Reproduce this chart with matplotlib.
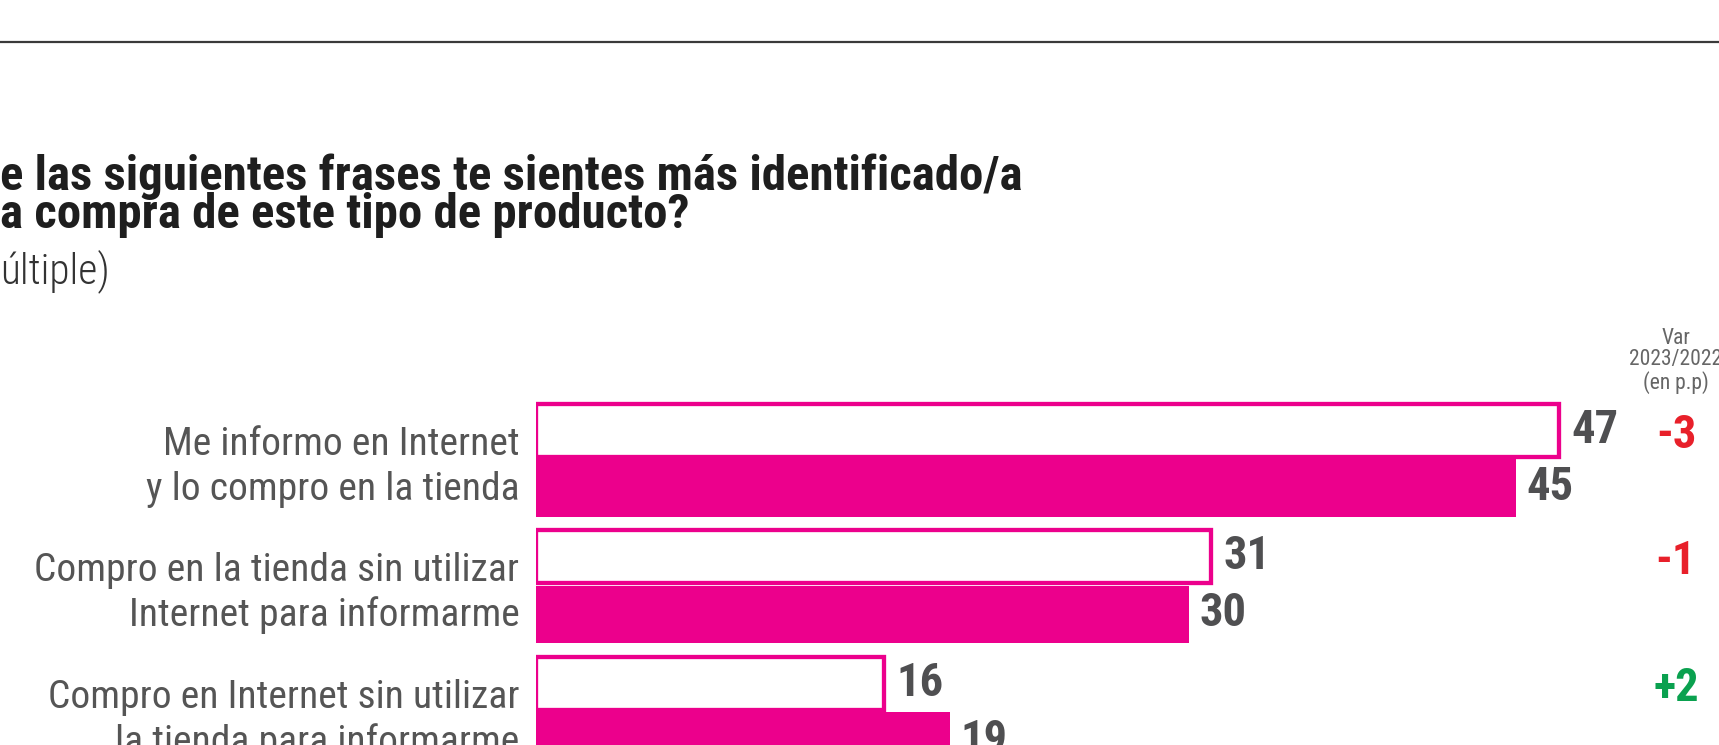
import matplotlib
matplotlib.use("Agg")
import matplotlib.pyplot as plt
from matplotlib.lines import Line2D

# ---------------- data ----------------
categories = [
    "Me informo en Internet\ny lo compro en la tienda",
    "Compro en la tienda sin utilizar\nInternet para informarme",
    "Compro en Internet sin utilizar\nla tienda para informarme",
]
values_2022 = [47, 31, 16]   # outlined bars
values_2023 = [45, 30, 19]   # filled bars
var_labels = ["-3", "-1", "+2"]

title_line1 = "e las siguientes frases te sientes más identificado/a"
title_line2 = "a compra de este tipo de producto?"
subtitle = "últiple)"
var_header = "Var\n2023/2022\n(en p.p)"

# ---------------- style ----------------
MAGENTA = "#ec008c"
NUM_GRAY = "#4f4f51"
LABEL_GRAY = "#555555"
RED = "#e8202a"
GREEN = "#0aa14f"
FONT = ["Roboto Condensed", "Lato", "DejaVu Sans"]
plt.rcParams["font.family"] = FONT

W, H, DPI = 1719, 745, 100
fig = plt.figure(figsize=(W / DPI, H / DPI), dpi=DPI)

# axes geometry (pixels)
x0_px = 536
px_per_unit = 21.77
top_px = 395
row0_px = 459
row_pitch = 126.5

ax = fig.add_axes([x0_px / W, 0, (W - x0_px) / W, (H - top_px) / H])
ax.set_xlim(0, (W - x0_px) / px_per_unit)
ax.set_ylim((H - row0_px) / row_pitch, -(row0_px - top_px) / row_pitch)

rows = list(range(len(categories)))
lw_pt = 3.1
ax.barh([r - 0.226 for r in rows], values_2022, height=0.42,
        color="white", edgecolor=MAGENTA, linewidth=lw_pt, zorder=2)
ax.barh([r + 0.229 for r in rows], values_2023, height=0.458,
        color=MAGENTA, edgecolor="none", zorder=3)

num_texts = []
for r, v in zip(rows, values_2022):
    num_texts.append(ax.annotate(str(v), (v, r - 0.23), xytext=(9, 0),
                                 textcoords="offset points", ha="left", va="center",
                                 fontsize=27, fontweight=800, color=NUM_GRAY,
                                 annotation_clip=False))
for r, v in zip(rows, values_2023):
    num_texts.append(ax.annotate(str(v), (v, r + 0.22), xytext=(7.5, 0),
                                 textcoords="offset points", ha="left", va="center",
                                 fontsize=27, fontweight=800, color=NUM_GRAY,
                                 annotation_clip=False))

var_x = (1676 - x0_px) / px_per_unit
for r, lab in zip(rows, var_labels):
    col = GREEN if lab.startswith("+") else RED
    num_texts.append(ax.text(var_x, r - 0.19, lab, ha="center", va="center",
                             fontsize=27, fontweight=800, color=col, clip_on=False))

ax.text(var_x, -(row0_px - 361) / row_pitch, var_header, ha="center", va="center",
        fontsize=15.5, color="#666666", linespacing=1.05, clip_on=False)

ax.set_yticks(rows)
ax.set_yticklabels(categories, fontsize=26, color=LABEL_GRAY, linespacing=1.3,
                   ha="right", multialignment="right", fontweight="normal")
ax.tick_params(axis="y", length=0, pad=12)
ax.set_xticks([])
for s in ax.spines.values():
    s.set_visible(False)

# top rule
fig.add_artist(Line2D([0, 1], [1 - 42 / H, 1 - 42 / H], transform=fig.transFigure,
                      color="#3a3a3a", linewidth=1.6))

# title (two lines in one text; anchored at the baseline of its last line)
t1 = fig.text(0, 1 - 228 / H, title_line1 + "\n" + title_line2, ha="left",
              va="baseline", fontsize=24, fontweight="bold", color="#1e1e1e")
t3 = fig.text(0, 1 - 283 / H, subtitle, ha="left", va="baseline",
              fontsize=24, fontweight="light", color="#333333")

# ---- fit font sizes / line spacing to the reference's measurements ----
fig.canvas.draw()
rend = fig.canvas.get_renderer()


def set_baseline_gap(txt, lines, gap_px):
    prop = txt.get_fontproperties()
    _, lp_h, lp_d = rend.get_text_width_height_descent("lp", prop, ismath=False)
    _, h1, d1 = rend.get_text_width_height_descent(lines[0], prop, ismath=False)
    _, h2, d2 = rend.get_text_width_height_descent(lines[1], prop, ismath=False)
    d1 = max(d1, lp_d)
    asc2 = max(h2, lp_h) - max(d2, lp_d)
    txt.set_linespacing(max((gap_px - d1) / asc2, 0.5))


w = t1.get_window_extent(rend).width
fs_title = 24 * 1025 / w
t1.set_fontsize(fs_title)
set_baseline_gap(t1, [title_line1, title_line2], 38)

w = t3.get_window_extent(rend).width
t3.set_fontsize(24 * 110 / w)

lab = ax.get_yticklabels()[1]
w = lab.get_window_extent(rend).width
fs_lab = 26 * 483 / w
for t, c in zip(ax.get_yticklabels(), categories):
    t.set_fontsize(fs_lab)
    set_baseline_gap(t, c.split("\n"), 45)

w = num_texts[0].get_window_extent(rend).width
fs_num = 27 * 47 / w
for t in num_texts:
    t.set_fontsize(fs_num)

fig.savefig("out.png", dpi=DPI)
